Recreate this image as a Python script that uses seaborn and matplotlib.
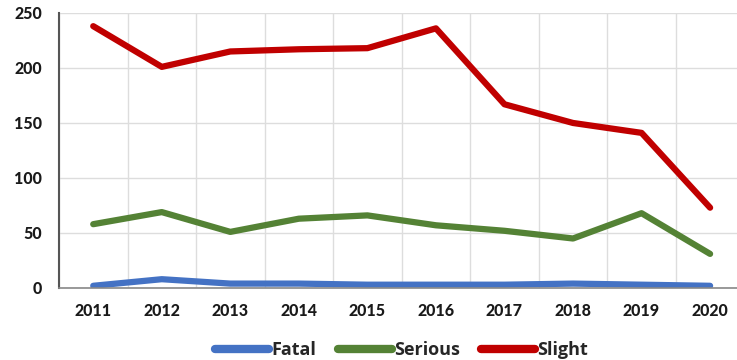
import pandas as pd
import numpy as np
import matplotlib.pyplot as plt
import seaborn as sns

sns.set_theme(style="white")
plt.rcParams['font.family'] = ['Open Sans', 'DejaVu Sans']

years = ['2011', '2012', '2013', '2014', '2015', '2016', '2017', '2018', '2019', '2020']
fatal = [2, 8, 4, 4, 3, 3, 3, 4, 3, 2]
serious = [58, 69, 51, 63, 66, 57, 52, 45, 68, 31]
slight = [238, 201, 215, 217, 218, 236, 167, 150, 141, 73]
series = ['Fatal', 'Serious', 'Slight']
colors = ['#4472C4', '#548235', '#C00000']

df = pd.DataFrame({'year': years * 3,
                   'value': fatal + serious + slight,
                   'severity': np.repeat(series, len(years))})
df['x'] = np.tile(np.arange(len(years)), 3)

fig = plt.figure(figsize=(7.37, 3.6), dpi=100)
ax = fig.add_axes([0.08, 0.2, 0.93, 0.764])
sns.lineplot(data=df, x='x', y='value', hue='severity', palette=colors,
             linewidth=4.5, ax=ax, estimator=None, solid_capstyle='round')

ax.set_xlim(-0.5, 9.5)
ax.set_ylim(0, 250)
ax.set_yticks([0, 50, 100, 150, 200, 250])
ax.set_xticks(range(len(years)))
ax.set_xticklabels(years)
ax.set_xticks(np.arange(-0.5, 10, 1), minor=True)
ax.grid(True, which='minor', axis='x', color='#dddddd', linewidth=1)
ax.grid(True, which='major', axis='y', color='#dddddd', linewidth=1)
ax.tick_params(axis='both', which='both', length=0, labelsize=11.5, colors='#1a1a1a')
ax.tick_params(axis='x', pad=11)
ax.tick_params(axis='y', pad=12)
for lab in ax.get_xticklabels() + ax.get_yticklabels():
    lab.set_family(['Lato', 'DejaVu Sans'])
    lab.set_fontweight('black')
ax.set_xlabel('')
ax.set_ylabel('')
for s in ['top', 'right']:
    ax.spines[s].set_visible(False)
ax.spines['left'].set_color('#555555')
ax.spines['left'].set_linewidth(1.5)
ax.spines['bottom'].set_color('#888888')
ax.spines['bottom'].set_linewidth(1.2)

leg = ax.legend(loc='upper center', bbox_to_anchor=(0.5, -0.135), ncol=3, frameon=False,
                handlelength=3, handletextpad=0.1, columnspacing=1.2,
                prop={'size': 13, 'weight': 'bold'})
for h in leg.get_lines():
    h.set_linewidth(6)

fig.savefig('out.png', dpi=100)
